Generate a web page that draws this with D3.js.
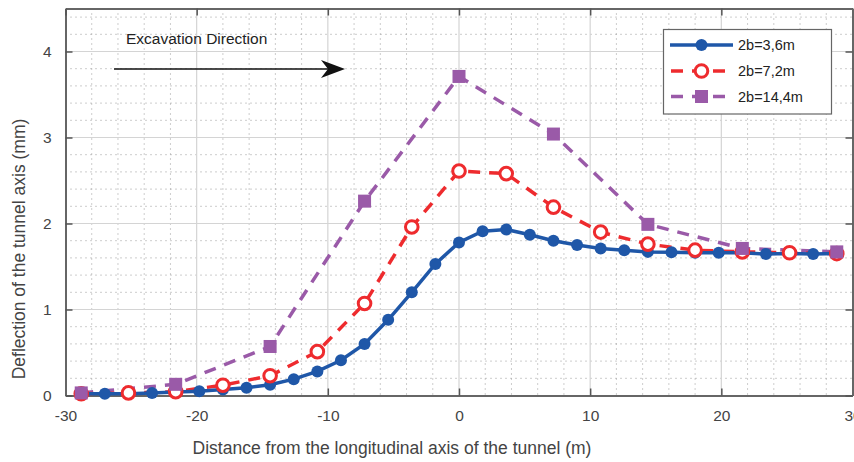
<!DOCTYPE html>
<html>
<head>
<meta charset="utf-8">
<script src="https://cdnjs.cloudflare.com/ajax/libs/d3/7.8.5/d3.min.js"></script>
<style>
  body { margin: 0; background: #fff; }
  text { font-family: "Liberation Sans", Arial, sans-serif; }
</style>
</head>
<body>
<div id="chart"></div>
<script>
// distances (m) for each series
var xBlue = [-28.8,-27,-25.2,-23.4,-21.6,-19.8,-18,-16.2,-14.4,-12.6,-10.8,-9,-7.2,-5.4,-3.6,-1.8,0,1.8,3.6,5.4,7.2,9,10.8,12.6,14.4,16.2,18,19.8,21.6,23.4,25.2,27,28.8];
var yBlue = [0.02,0.02,0.02,0.03,0.04,0.05,0.07,0.09,0.125,0.19,0.28,0.41,0.60,0.88,1.20,1.53,1.78,1.91,1.93,1.87,1.80,1.75,1.71,1.69,1.67,1.665,1.66,1.66,1.66,1.645,1.65,1.645,1.65];

var xRed = [-28.8,-25.2,-21.6,-18,-14.4,-10.8,-7.2,-3.6,0,3.6,7.2,10.8,14.4,18,21.6,25.2,28.8];
var yRed = [0.02,0.03,0.045,0.12,0.23,0.51,1.07,1.96,2.61,2.58,2.19,1.90,1.76,1.69,1.67,1.66,1.65];

var xPurple = [-28.8,-21.6,-14.4,-7.2,0,7.2,14.4,21.6,28.8];
var yPurple = [0.03,0.13,0.57,2.26,3.71,3.04,1.99,1.71,1.67];

var seriesNames = ["2b=3,6m", "2b=7,2m", "2b=14,4m"];
var xTicks = [-30,-20,-10,0,10,20,30];
var yTicks = [0,1,2,3,4];

var margin = { left: 65.5, right: 1.5, top: 8.5, bottom: 66.5 };
var width = 854 - margin.left - margin.right;
var height = 462 - margin.top - margin.bottom;

var blue = "#1f57a8", red = "#ee2b2e", purple = "#9a5aa8";

var svg = d3.select("#chart").append("svg")
    .attr("width", 854)
    .attr("height", 462);

var g = svg.append("g")
    .attr("transform", "translate(" + margin.left + "," + margin.top + ")");

var xScale = d3.scaleLinear().domain([-30, 30]).range([0, width]);
var yScale = d3.scaleLinear().domain([0, 4.5]).range([height, 0]);

// minor dotted grid
g.append("g").selectAll("line")
    .data(d3.range(-28, 30, 2).filter(function(d){ return d % 10 != 0; }))
    .enter().append("line")
    .attr("x1", function(d){ return xScale(d); })
    .attr("x2", function(d){ return xScale(d); })
    .attr("y1", 0).attr("y2", height)
    .attr("stroke", "#9a9a9a").attr("stroke-width", 1)
    .attr("stroke-dasharray", "1,4");

g.append("g").selectAll("line")
    .data(d3.range(1, 23).map(function(i){ return i * 0.2; }).filter(function(d){ return Math.abs(d - Math.round(d)) > 0.01; }))
    .enter().append("line")
    .attr("x1", 0).attr("x2", width)
    .attr("y1", function(d){ return yScale(d); })
    .attr("y2", function(d){ return yScale(d); })
    .attr("stroke", "#9a9a9a").attr("stroke-width", 1)
    .attr("stroke-dasharray", "1,4");

// major grid
g.append("g").selectAll("line")
    .data(xTicks.slice(1, -1))
    .enter().append("line")
    .attr("x1", function(d){ return xScale(d); })
    .attr("x2", function(d){ return xScale(d); })
    .attr("y1", 0).attr("y2", height)
    .attr("stroke", "#d4d4d4").attr("stroke-width", 1.2);

g.append("g").selectAll("line")
    .data(yTicks.slice(1))
    .enter().append("line")
    .attr("x1", 0).attr("x2", width)
    .attr("y1", function(d){ return yScale(d); })
    .attr("y2", function(d){ return yScale(d); })
    .attr("stroke", "#d4d4d4").attr("stroke-width", 1.2);

// axes (ticks inward, box on all sides)
var plain = function(d){ return String(d); };
var xAxis = d3.axisBottom(xScale).tickValues(xTicks).tickFormat(plain).tickSizeInner(-7).tickSizeOuter(0).tickPadding(14);
var yAxis = d3.axisLeft(yScale).tickValues(yTicks).tickFormat(plain).tickSizeInner(-7).tickSizeOuter(0).tickPadding(14);

function styleAxis(sel) {
    sel.select(".domain").attr("stroke", "#666").attr("stroke-width", 2);
    sel.selectAll(".tick line").attr("stroke", "#555").attr("stroke-width", 1.5);
    sel.selectAll(".tick text").attr("fill", "#444").style("font-size", "15.5px");
}

g.append("g").attr("transform", "translate(0," + height + ")").call(xAxis).call(styleAxis);
g.append("g").call(yAxis).call(styleAxis);
g.append("g").call(d3.axisTop(xScale).tickValues(xTicks).tickSizeInner(-7).tickSizeOuter(0).tickFormat(""))
    .call(styleAxis);
g.append("g").attr("transform", "translate(" + width + ",0)")
    .call(d3.axisRight(yScale).tickValues(yTicks).tickSizeInner(-7).tickSizeOuter(0).tickFormat(""))
    .call(styleAxis);

// excavation arrow
svg.append("text")
    .attr("x", 126).attr("y", 44)
    .attr("fill", "#222")
    .style("font-size", "15.5px")
    .text("Excavation Direction");

svg.append("line")
    .attr("x1", 114).attr("x2", 332)
    .attr("y1", 69).attr("y2", 69)
    .attr("stroke", "#111").attr("stroke-width", 1.5);

svg.append("path")
    .attr("d", "M345,69 L321,60 L328,69 L321,78 Z")
    .attr("fill", "#111");

// series
var line = d3.line()
    .x(function(d){ return xScale(d[0]); })
    .y(function(d){ return yScale(d[1]); });

var blueData = d3.zip(xBlue, yBlue);
var redData = d3.zip(xRed, yRed);
var purpleData = d3.zip(xPurple, yPurple);

var plot = g.append("g");

plot.append("path").datum(purpleData)
    .attr("d", line).attr("fill", "none")
    .attr("stroke", purple).attr("stroke-width", 3.5)
    .attr("stroke-dasharray", "12,9");

plot.append("path").datum(redData)
    .attr("d", line).attr("fill", "none")
    .attr("stroke", red).attr("stroke-width", 3.5)
    .attr("stroke-dasharray", "12,9");

plot.append("path").datum(blueData)
    .attr("d", line).attr("fill", "none")
    .attr("stroke", blue).attr("stroke-width", 3.5);

plot.selectAll(".bdot").data(blueData).enter()
    .append("circle").attr("class", "bdot")
    .attr("cx", function(d){ return xScale(d[0]); })
    .attr("cy", function(d){ return yScale(d[1]); })
    .attr("r", 6).attr("fill", blue);

plot.selectAll(".rdot").data(redData).enter()
    .append("circle").attr("class", "rdot")
    .attr("cx", function(d){ return xScale(d[0]); })
    .attr("cy", function(d){ return yScale(d[1]); })
    .attr("r", 6.3).attr("fill", "#fff")
    .attr("stroke", red).attr("stroke-width", 3);

plot.selectAll(".psq").data(purpleData).enter()
    .append("rect").attr("class", "psq")
    .attr("x", function(d){ return xScale(d[0]) - 6.5; })
    .attr("y", function(d){ return yScale(d[1]) - 6.5; })
    .attr("width", 13).attr("height", 13)
    .attr("fill", purple);

// legend
var legend = svg.append("g");
legend.append("rect")
    .attr("x", 663.5).attr("y", 29.5)
    .attr("width", 168).attr("height", 84.5)
    .attr("fill", "#fff").attr("stroke", "#666").attr("stroke-width", 1.2);

var rows = [45, 71, 96.5];
var colors = [blue, red, purple];

seriesNames.forEach(function(name, i) {
    var row = legend.append("g").attr("transform", "translate(0," + rows[i] + ")");
    row.append("line")
        .attr("x1", 670).attr("x2", 733).attr("y1", 0).attr("y2", 0)
        .attr("stroke", colors[i]).attr("stroke-width", 3.5)
        .attr("stroke-dasharray", i == 0 ? null : "12,9")
        .attr("stroke-dashoffset", i == 0 ? null : -1);
    if (i == 0) {
        row.append("circle").attr("cx", 701.5).attr("cy", 0).attr("r", 6).attr("fill", blue);
    } else if (i == 1) {
        row.append("circle").attr("cx", 701.5).attr("cy", 0).attr("r", 6.3)
            .attr("fill", "#fff").attr("stroke", red).attr("stroke-width", 3);
    } else {
        row.append("rect").attr("x", 695).attr("y", -6.5).attr("width", 13).attr("height", 13).attr("fill", purple);
    }
    row.append("text")
        .attr("x", 738).attr("y", 0).attr("dy", "0.35em")
        .attr("fill", "#222")
        .style("font-size", "14.5px")
        .text(name);
});

// axis titles
svg.append("text")
    .attr("x", 392).attr("y", 454)
    .attr("text-anchor", "middle")
    .attr("fill", "#444")
    .style("font-size", "17.5px")
    .text("Distance from the longitudinal axis of the tunnel (m)");

svg.append("text")
    .attr("transform", "translate(25,249) rotate(-90)")
    .attr("text-anchor", "middle")
    .attr("fill", "#444")
    .style("font-size", "17.5px")
    .text("Deflection of the tunnel axis (mm)");
</script>
</body>
</html>
